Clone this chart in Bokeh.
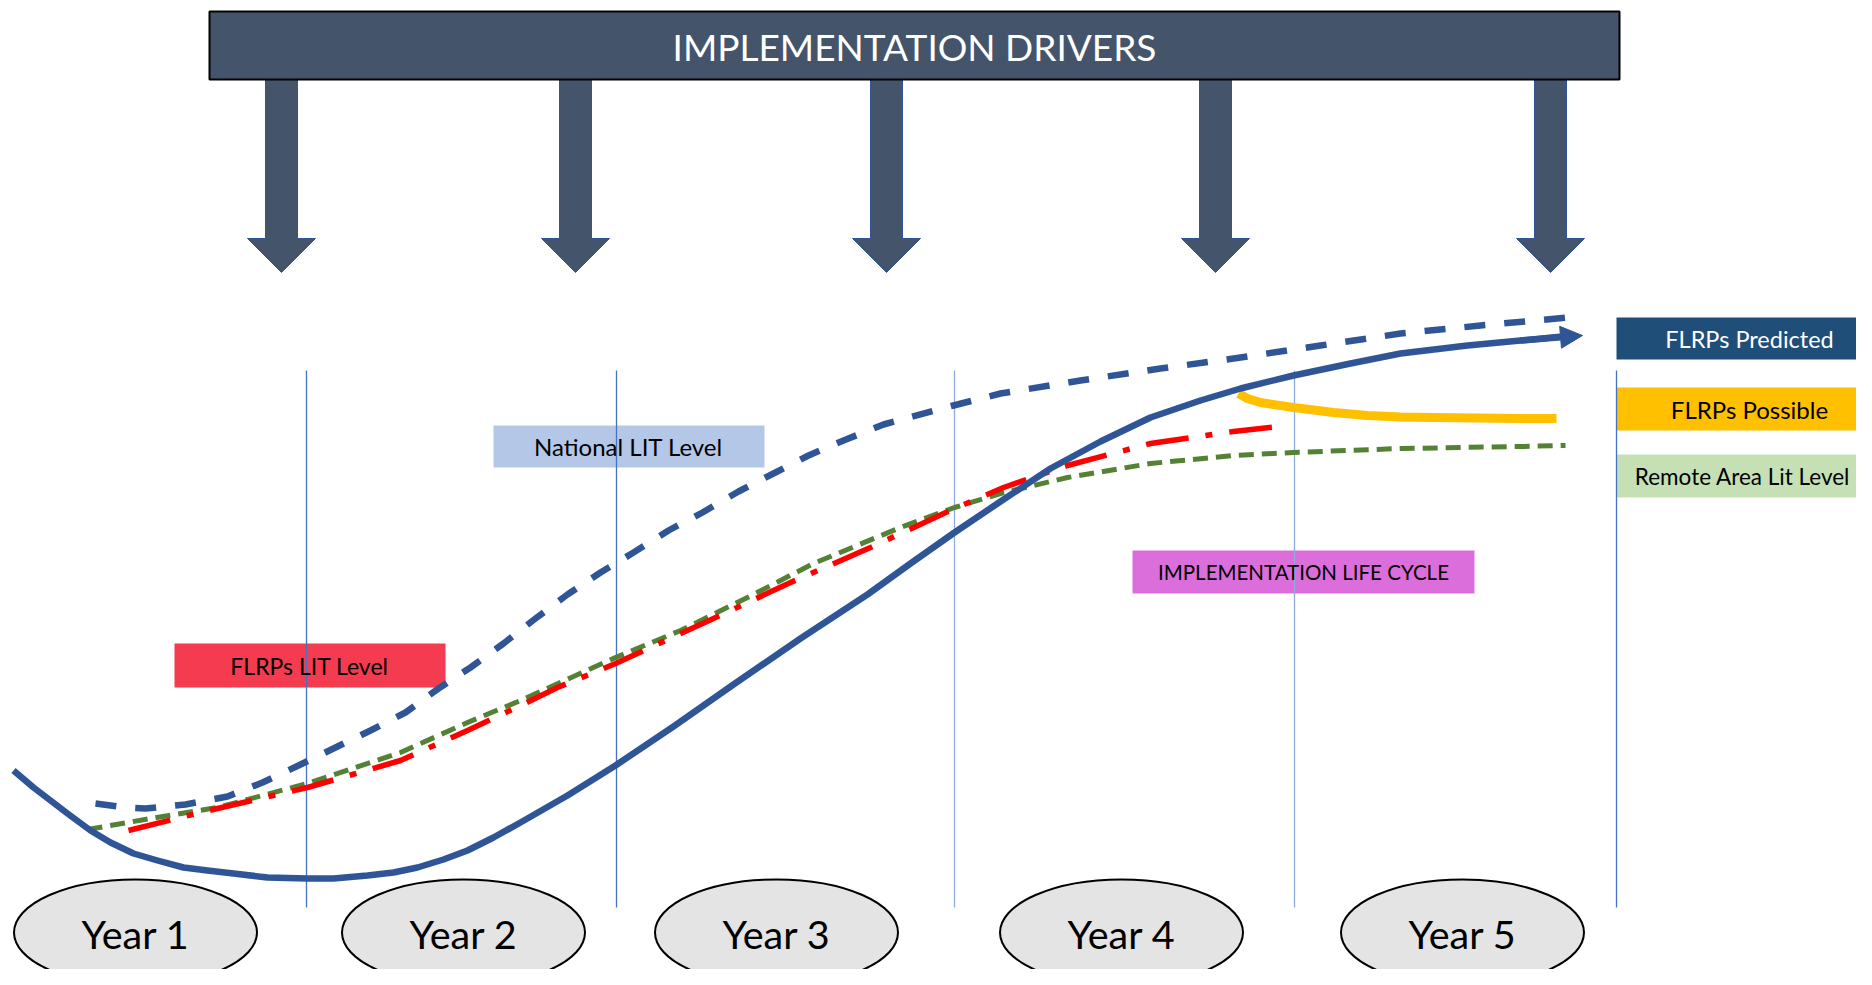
from bokeh.plotting import figure
from bokeh.models import Range1d, Arrow, NormalHead, ColumnDataSource
from bokeh.embed import file_html
from bokeh.resources import INLINE
from bokeh.core.properties import value

FONT = "Lato"

# ---------------- data (chart units: x = timeline, y = level, y grows downward) ----------------
years = ["Year 1", "Year 2", "Year 3", "Year 4", "Year 5"]
year_x = [135, 463, 776, 1121, 1462]
year_boundaries = [306, 616, 954, 1294, 1616]
driver_x = [281, 575, 886, 1215, 1550]

predicted_x = [13, 33, 50, 67, 90, 110, 133, 157, 183, 207, 233, 267, 307, 333, 367, 393, 417, 443,
               467, 493, 520, 567, 615, 673, 733, 800, 867, 910, 954, 1000, 1050, 1100, 1150, 1200,
               1240, 1293, 1350, 1400, 1467, 1520, 1562]
predicted_y = [770, 787, 800, 813, 830, 842, 853, 860, 867, 870, 873, 877, 878, 878, 875, 872, 867,
               859, 850, 837, 822, 795, 765, 726, 684, 638, 594, 563, 532, 501, 468, 441, 417, 400,
               388, 375, 363, 353, 345, 340, 336]

national_x = [95, 125, 145, 185, 227, 262, 298, 335, 370, 405, 438, 470, 503, 535, 567, 600, 633,
              668, 702, 738, 773, 808, 843, 883, 953, 1000, 1080, 1160, 1240, 1320, 1400, 1480, 1568]
national_y = [803, 807, 808, 804, 796, 782, 765, 747, 730, 712, 688, 667, 643, 618, 594, 572, 552,
              530, 512, 491, 473, 455, 440, 424, 405, 393, 380, 368, 357, 345, 333, 325, 317]

remote_x = [87, 150, 217, 307, 400, 467, 520, 615, 680, 747, 813, 900, 954, 1000, 1067, 1150, 1233,
            1293, 1400, 1520, 1565]
remote_y = [829, 818, 807, 783, 752, 722, 700, 657, 630, 597, 563, 527, 507, 493, 477, 463, 455,
            452, 448, 446, 445]

flrp_lit_x = [128, 200, 307, 400, 467, 520, 557, 615, 713, 790, 870, 954, 1003, 1067, 1150, 1233, 1288]
flrp_lit_y = [830, 812, 787, 760, 730, 705, 687, 663, 618, 582, 547, 508, 487, 465, 443, 431, 425]

possible_x = [1238, 1247, 1260, 1293, 1333, 1367, 1400, 1433, 1520, 1556]
possible_y = [393, 398, 402, 407, 412, 415, 416.5, 417, 418, 418]

box_labels = ["National LIT Level", "FLRPs LIT Level", "IMPLEMENTATION LIFE CYCLE",
              "FLRPs Predicted", "FLRPs Possible", "Remote Area Lit Level"]
box_left = [493, 174, 1132, 1616, 1616, 1616]
box_right = [764, 445, 1474, 1890, 1890, 1890]
box_top = [425, 643, 550, 317, 387, 454]
box_bottom = [467, 687, 593, 359, 430, 497]
box_text_x = [628, 309, 1303, 1749, 1749, 1742]
box_fill = ["#B4C7E7", "#F43B4F", "#DC6EDC", "#1F4E79", "#FFC000", "#C5E0B4"]
box_text_color = ["black", "black", "black", "white", "black", "black"]
box_font_size = ["24px", "23px", "20.5px", "23.5px", "24px", "22.5px"]

banner_text = "IMPLEMENTATION DRIVERS"

# ---------------- figure ----------------
p = figure(width=1856, height=969, x_range=Range1d(0, 1856), y_range=Range1d(969, 0),
           output_backend="svg", toolbar_location=None, min_border=0,
           x_axis_location=None, y_axis_location=None)
p.grid.visible = False
p.outline_line_color = None
p.background_fill_color = "white"
p.border_fill_color = "white"

# driver arrows
shaft_hw, head_hw, shaft_top, head_top, tip = 16, 34, 79, 238, 272
xs = [[c - shaft_hw, c + shaft_hw, c + shaft_hw, c + head_hw, c, c - head_hw, c - shaft_hw]
      for c in driver_x]
ys = [[shaft_top, shaft_top, head_top, head_top, tip, head_top, head_top] for _ in driver_x]
p.patches(xs, ys, fill_color="#44546A", line_color="#2F5597", line_width=1)

# banner
p.quad(left=[209], right=[1619], top=[11], bottom=[79], fill_color="#44546A",
       line_color="black", line_width=2)
p.text(x=[914], y=[46], text=[banner_text], text_color="white", text_font=value(FONT),
       text_font_size="37px", text_align="center", text_baseline="middle")

# label boxes
bsrc = ColumnDataSource(dict(left=box_left, right=box_right, top=box_top, bottom=box_bottom,
                             fill=box_fill, tx=box_text_x,
                             ty=[(t + b) / 2 for t, b in zip(box_top, box_bottom)],
                             label=box_labels, tc=box_text_color, fs=box_font_size))
p.quad(left="left", right="right", top="top", bottom="bottom", fill_color="fill",
       line_color=None, source=bsrc)

# year boundaries
grid_colors = ["#4472C4", "#4472C4", "#8FAADC", "#8FAADC", "#4472C4"]
p.segment(x0=year_boundaries, y0=[370] * 5, x1=year_boundaries, y1=[907] * 5,
          line_color=grid_colors, line_width=1.3)

p.text(x="tx", y="ty", text="label", text_color="tc", text_font=value(FONT),
       text_font_size="fs", text_align="center", text_baseline="middle", source=bsrc)

# curves
p.line(remote_x, remote_y, line_color="#548235", line_width=5, line_dash="15 8",
       line_join="round")
p.line(flrp_lit_x, flrp_lit_y, line_color="#FF0000", line_width=5.5, line_dash="43 17 7 17",
       line_join="round")
p.line(national_x, national_y, line_color="#2F5597", line_width=6.5, line_dash="21 19",
       line_join="round")
p.line(possible_x, possible_y, line_color="#FFC000", line_width=9, line_cap="butt",
       line_join="round")
p.line(predicted_x, predicted_y, line_color="#2F5597", line_width=6.5, line_join="round")
p.add_layout(Arrow(end=NormalHead(size=22, fill_color="#2F5597", line_color="#2F5597"),
                   x_start=predicted_x[-2], y_start=predicted_y[-2],
                   x_end=predicted_x[-1] + 20, y_end=predicted_y[-1] - 1,
                   line_color="#2F5597", line_width=6.5))

# year ellipses
p.ellipse(x=year_x, y=[932] * 5, width=243, height=106, fill_color="#E4E4E4",
          line_color="black", line_width=2)
p.text(x=year_x, y=[933] * 5, text=years, text_color="black", text_font=value(FONT),
       text_font_size="39.5px", text_align="center", text_baseline="middle")

open("out.html", "w").write(file_html(p, INLINE))
